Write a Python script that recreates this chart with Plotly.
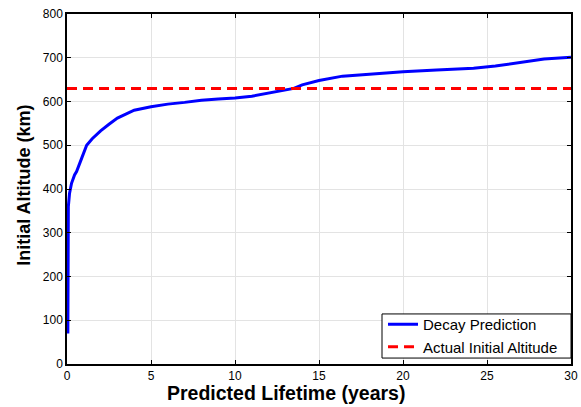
import plotly.graph_objects as go

# Data
lifetime_years = [0.05, 0.055, 0.06, 0.08, 0.15, 0.27, 0.45, 0.57, 0.87, 1.17, 1.5, 2.0, 2.5, 3.0, 3.5, 4.0, 5.0, 6.0, 7.0, 8.0, 9.0, 10.0, 11.0, 12.0, 13.0, 13.5, 14.0, 15.0, 16.4, 18.0, 20.0, 22.0, 24.2, 25.5, 26.6, 27.5, 28.4, 30.0]
altitude_km = [70, 200, 322, 360, 390, 413, 432, 440, 470, 500, 515, 533, 548, 562, 571, 580, 588, 594, 598, 603, 606, 608, 612, 619, 626, 630, 638, 648, 658, 663, 668, 672, 676, 681, 687, 693, 697, 701]
actual_altitude = 630
x_range = [0, 30]
y_range = [0, 800]
x_title = "Predicted Lifetime (years)"
y_title = "Initial Altitude (km)"

font_family = "Arial, Liberation Sans, sans-serif"

fig = go.Figure()
fig.add_trace(go.Scatter(
    x=lifetime_years, y=altitude_km, mode="lines", name="Decay Prediction",
    line=dict(color="#0000ff", width=3)))
fig.add_trace(go.Scatter(
    x=x_range, y=[actual_altitude, actual_altitude], mode="lines", name="Actual Initial Altitude",
    line=dict(color="#ff0000", width=3, dash="10px,6px")))

axis_common = dict(
    showline=True, linecolor="black", linewidth=1.5, mirror="ticks",
    ticks="inside", ticklen=4, tickcolor="black",
    showgrid=True, gridcolor="#e3e3e3", gridwidth=1,
    zeroline=False, automargin=False,
    tickfont=dict(family=font_family, size=12, color="black"),
)

fig.update_layout(
    width=581, height=407,
    margin=dict(l=67, r=10, t=14, b=43),
    paper_bgcolor="white", plot_bgcolor="white",
    font=dict(family=font_family, color="black"),
    xaxis=dict(range=x_range, dtick=5, **axis_common),
    yaxis=dict(range=y_range, dtick=100, **axis_common),
    legend=dict(x=0.627, y=0.16, xanchor="left", yanchor="top",
                bgcolor="rgba(0,0,0,0)", borderwidth=0,
                font=dict(size=15, family=font_family),
                itemwidth=30, tracegroupgap=0),
    showlegend=True,
    shapes=[
        dict(type="rect", xref="paper", yref="paper",
             x0=0.625, x1=1.0, y0=0.017, y1=0.143,
             line=dict(color="black", width=1), fillcolor="white", layer="above"),
    ],
    annotations=[
        dict(text="<b>%s</b>" % x_title, xref="paper", yref="paper",
             x=0.4345, y=-0.083, xanchor="center", yanchor="middle",
             showarrow=False, font=dict(size=19.5, family=font_family, color="black")),
        dict(text="<b>%s</b>" % y_title, xref="paper", yref="paper",
             x=-0.0853, y=0.509, xanchor="center", yanchor="middle", textangle=-90,
             showarrow=False, font=dict(size=18, family=font_family, color="black")),
    ],
)

fig.write_html("out.html", config={"displayModeBar": False},
               post_script="document.body.style.margin='0';document.body.style.overflow='hidden';")
